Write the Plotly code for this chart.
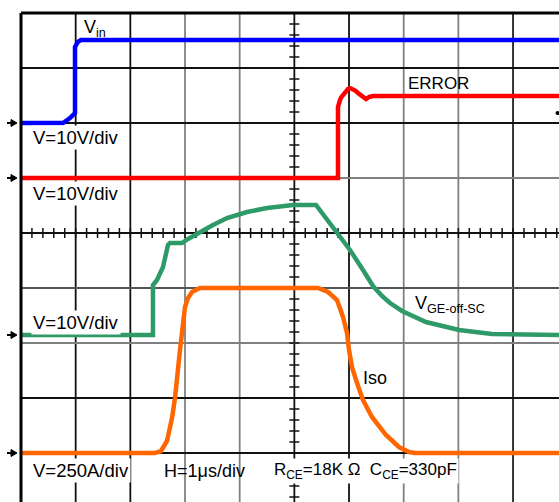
import plotly.graph_objects as go

# ---- data (time in divisions from left edge, amplitude in divisions, centre = 0) ----
vin_t = [0, 0.768, 0.896, 0.988, 0.988, 1.01, 1.04, 1.097, 9.9]
vin_v = [2.0, 2.0, 2.091, 2.182, 3.382, 3.43, 3.475, 3.509, 3.509]

err_t = [0, 5.798, 5.798, 5.81, 5.835, 5.86, 5.89, 5.94, 5.981, 6.03, 6.073, 6.12, 6.164,
         6.311, 6.365, 6.439, 9.9]
err_v = [1.0, 1.0, 2.291, 2.36, 2.418, 2.47, 2.509, 2.58, 2.618, 2.63, 2.618, 2.585, 2.545,
         2.436, 2.473, 2.491, 2.491]

vge_t = [0, 2.414, 2.414, 2.488, 2.597, 2.652, 2.689, 2.725, 2.945, 3.055, 3.274, 3.512,
         3.768, 4.134, 4.5, 4.975, 5.396, 5.798, 6.018, 6.256, 6.439, 6.603, 6.75,
         6.969, 7.408, 8.012, 8.615, 9.9]
vge_v = [-1.855, -1.855, -0.945, -0.855, -0.618, -0.418, -0.218, -0.182, -0.182, -0.109, 0.018,
         0.145, 0.273, 0.382, 0.455, 0.509, 0.509, 0.0, -0.309, -0.673, -0.964, -1.145,
         -1.273, -1.418, -1.618, -1.764, -1.836, -1.855]

iso_t = [0, 2.451, 2.561, 2.671, 2.762, 2.817, 2.908, 3.0, 3.055, 3.128, 3.274, 5.433,
         5.616, 5.78, 5.89, 5.963, 6.0, 6.054, 6.146, 6.256, 6.42, 6.512, 6.676, 6.914,
         7.097, 7.207, 9.9]
iso_v = [-4.0, -4.0, -3.964, -3.782, -3.364, -3.0, -2.127, -1.345, -1.182, -1.073, -1.0,
         -1.0, -1.073, -1.218, -1.527, -1.818, -2.127, -2.436, -2.727, -3.036, -3.345,
         -3.455, -3.673, -3.891, -3.982, -4.0, -4.0]

ground_levels = [2.0, 1.0, -1.855, -4.0]

grid_x = [1, 2, 3, 4, 5, 6, 7, 8, 9]
grid_x_col = ["#111", "#111", "#808080", "#808080", "#111", "#111", "#808080", "#808080", "#222"]
grid_y = [3, 2, 1, 0, -1, -2, -3, -4]
grid_y_col = ["#111", "#111", "#808080", "#111", "#555", "#808080", "#111", "#111"]

# ---- layout geometry ----
W, H = 559, 502
ML, MT = 21, 13
PW, PH = W - ML, H - MT
XDIV, YDIV = 54.67, 55.0
x_range = [0, PW / XDIV]
y_range = [4 - PH / YDIV, 4]

FONT = "Liberation Sans, Arial, sans-serif"

fig = go.Figure()
for t, v, c in [(vin_t, vin_v, "#0000FF"), (err_t, err_v, "#FF0000"),
                (vge_t, vge_v, "#2E9A68"), (iso_t, iso_v, "#FF6600")]:
    fig.add_trace(go.Scatter(x=t, y=v, mode="lines",
                             line=dict(color=c, width=4.5, shape="linear"),
                             hoverinfo="skip", showlegend=False))

shapes = []
for gx, c in zip(grid_x, grid_x_col):
    shapes.append(dict(type="line", xref="x", yref="y", x0=gx, x1=gx, y0=y_range[0], y1=y_range[1],
                       line=dict(color=c, width=1.8), layer="below"))
for gy, c in zip(grid_y, grid_y_col):
    shapes.append(dict(type="line", xref="x", yref="y", x0=x_range[0], x1=x_range[1], y0=gy, y1=gy,
                       line=dict(color=c, width=1.8), layer="below"))

# centre-axis minor ticks
hx = 5 / XDIV
hy = 5 / YDIV
k = -25
while k * 0.2 <= 4:
    yy = k * 0.2
    shapes.append(dict(type="line", xref="x", yref="y", x0=5 - hx, x1=5 + hx, y0=yy, y1=yy,
                       line=dict(color="#111", width=1.5), layer="below"))
    k += 1
for k in range(1, 50):
    xx = k * 0.2
    shapes.append(dict(type="line", xref="x", yref="y", x0=xx, x1=xx, y0=-hy, y1=hy,
                       line=dict(color="#111", width=1.5), layer="below"))

# border (left and top)
shapes.append(dict(type="line", xref="paper", yref="paper", x0=0, x1=0, y0=0, y1=1,
                   line=dict(color="#000", width=3)))
shapes.append(dict(type="line", xref="paper", yref="paper", x0=0, x1=1, y0=1, y1=1,
                   line=dict(color="#000", width=3)))

# ground arrow markers on the left
def px_x(p):
    return (p - ML) / PW

def paper_y(yd):
    return (yd - y_range[0]) / (y_range[1] - y_range[0])

for g in ground_levels:
    py = paper_y(g)
    dy = 3.5 / PH
    shapes.append(dict(type="path", xref="paper", yref="paper",
                       path=f"M {px_x(11)},{py - dy} L {px_x(17)},{py} L {px_x(11)},{py + dy} Z",
                       fillcolor="#000", line=dict(color="#000", width=1)))
    shapes.append(dict(type="line", xref="paper", yref="paper", x0=px_x(7), x1=px_x(12), y0=py, y1=py,
                       line=dict(color="#000", width=2)))
# small marker at right edge
pyr = paper_y((233 - 113) / YDIV)
shapes.append(dict(type="circle", xref="paper", yref="paper", x0=px_x(555.5), x1=px_x(559.5),
                   y0=pyr - 2 / PH, y1=pyr + 2 / PH, fillcolor="#000", line=dict(width=0)))

def ann(text, x, y, size=18, bg=None):
    d = dict(text=text, x=x, y=y, xref="x", yref="y", xanchor="left", yanchor="middle",
             showarrow=False, font=dict(family=FONT, size=size, color="#000"), borderpad=1)
    if bg:
        d["bgcolor"] = bg
    return d

annotations = [
    ann("V<sub>in</sub>", 1.12, 3.72),
    ann("ERROR", 7.04, 2.727, size=17),
    ann("V=10V/div", 0.19, 1.745, size=18.5, bg="#fff"),
    ann("V=10V/div", 0.19, 0.727, size=18.5, bg="#fff"),
    ann("V=10V/div", 0.19, -1.636, size=18.5, bg="#fff"),
    ann("V=250A/div", 0.19, -4.327, size=18.5, bg="#fff"),
    ann("H=1μs/div", 2.58, -4.327),
    ann("R<sub>CE</sub>=18K Ω  C<sub>CE</sub>=330pF", 4.6, -4.33, size=17, bg="#fff"),
    ann("Iso", 6.22, -2.636),
    ann("V<sub>GE-off-SC</sub>", 7.17, -1.30),
]

fig.update_layout(
    width=W, height=H,
    margin=dict(l=ML, r=0, t=MT, b=0, pad=0),
    paper_bgcolor="#fff", plot_bgcolor="#fff",
    xaxis=dict(range=x_range, visible=False, fixedrange=True),
    yaxis=dict(range=y_range, visible=False, fixedrange=True),
    shapes=shapes, annotations=annotations, showlegend=False,
)

fig.write_html("out.html")
